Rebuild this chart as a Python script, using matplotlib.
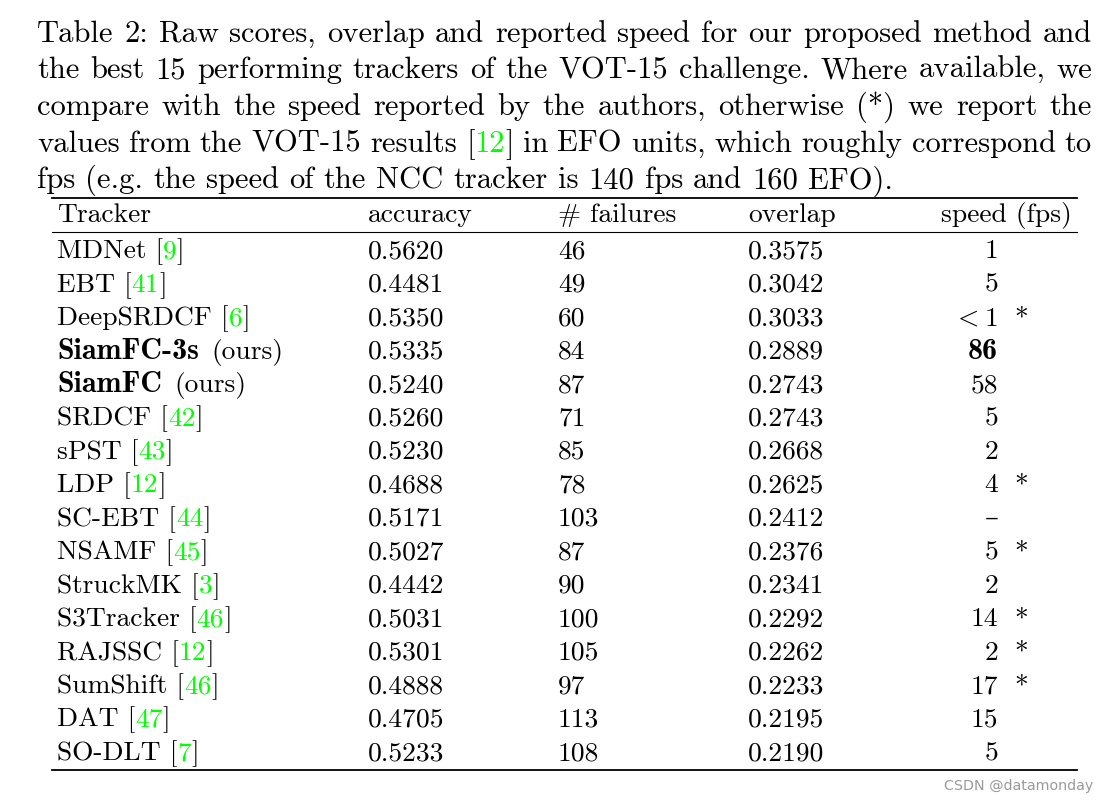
import matplotlib
matplotlib.use("Agg")
import matplotlib.pyplot as plt

plt.rcParams['mathtext.fontset'] = 'cm'

W, H = 1109, 803

# caption (already broken into lines like the paper)
caption = [
    "Table 2: Raw scores, overlap and reported speed for our proposed method and",
    "the best 15 performing trackers of the VOT-15 challenge. Where available, we",
    "compare with the speed reported by the authors, otherwise (*) we report the",
    "values from the VOT-15 results [12] in EFO units, which roughly correspond to",
    "fps (e.g. the speed of the NCC tracker is 140 fps and 160 EFO).",
]

headers = ["Tracker", "accuracy", "# failures", "overlap", "speed (fps)"]
trackers = ["MDNet", "EBT", "DeepSRDCF", "SiamFC-3s", "SiamFC", "SRDCF", "sPST", "LDP",
            "SC-EBT", "NSAMF", "StruckMK", "S3Tracker", "RAJSSC", "SumShift", "DAT", "SO-DLT"]
refs = ["9", "41", "6", "", "", "42", "43", "12", "44", "45", "3", "46", "12", "46", "47", "7"]
ours = [False, False, False, True, True] + [False] * 11
accuracy = [0.5620, 0.4481, 0.5350, 0.5335, 0.5240, 0.5260, 0.5230, 0.4688,
            0.5171, 0.5027, 0.4442, 0.5031, 0.5301, 0.4888, 0.4705, 0.5233]
failures = [46, 49, 60, 84, 87, 71, 85, 78, 103, 87, 90, 100, 105, 97, 113, 108]
overlap = [0.3575, 0.3042, 0.3033, 0.2889, 0.2743, 0.2743, 0.2668, 0.2625,
           0.2412, 0.2376, 0.2341, 0.2292, 0.2262, 0.2233, 0.2195, 0.2190]
speed = ["1", "5", "<1", "86", "58", "5", "2", "4", "–", "5", "2", "14", "2", "17", "15", "5"]
efo = [False, False, True, False, False, False, False, True,
       False, True, False, True, True, True, False, False]
best_speed = 3

GREEN = "#00ff00"
RM = ["cmr10", "DejaVu Serif"]
BF = ["cmb10", "DejaVu Serif"]
cap_size = 22
tab_size = 19.8
bold_size = 21.6   # cmb10 is narrower than LaTeX's cmbx, so a bit larger

fig = plt.figure(figsize=(W / 100, H / 100), dpi=100)
ax = fig.add_axes([0, 0, 1, 1])
ax.set_xlim(0, W)
ax.set_ylim(H, 0)
ax.axis("off")
renderer = fig.canvas.get_renderer()


def tw(s, size, family=RM):
    t = ax.text(0, 0, s, fontsize=size, family=family)
    w = t.get_window_extent(renderer).width
    t.remove()
    return w


def put(x, y, s, size, color="black", family=RM, ha="left", **kw):
    ax.text(x, y, s, fontsize=size, family=family, color=color, ha=ha, va="baseline", **kw)


def cite(x, y, before, num, size):
    # "name [n]" with the number in green
    put(x, y, before + "[", size)
    put(x + tw(before + "[" + num, size), y, num, size, GREEN, ha="right")
    put(x + tw(before + "[" + num + "]", size), y, "]", size, ha="right")


# ---- caption, justified ----
cap_left, cap_right = 37, 1092
cap_y0, cap_dy = 41.7, 36.65
for i, line in enumerate(caption):
    y = cap_y0 + i * cap_dy
    words = line.split(" ")
    widths = [tw(w_, cap_size) for w_ in words]
    if i == len(caption) - 1:
        gap = tw("a a", cap_size) - tw("aa", cap_size)
    else:
        gap = (cap_right - cap_left - sum(widths)) / (len(words) - 1)
    x = cap_left
    for w_, wd in zip(words, widths):
        if w_.startswith("[") and w_.endswith("]"):
            cite(x, y, "", w_[1:-1], cap_size)
        else:
            put(x, y, w_, cap_size)
        x += wd + gap

# ---- table ----
col_x = [57, 368, 558, 748]
speed_right = 998
star_x = 1014
rule_l, rule_r = 52, 1077
ax.plot([rule_l, rule_r], [199, 199], color="black", lw=1.3)
ax.plot([rule_l, rule_r], [233.3, 233.3], color="black", lw=0.8)
ax.plot([rule_l, rule_r], [770.5, 770.5], color="black", lw=1.3)

head_y = 221.7
for j in range(4):
    put(col_x[j], head_y, headers[j], tab_size)
put(1072, head_y, headers[4], tab_size, ha="right")

row_y0, row_dy = 258.3, 33.45
for i in range(len(trackers)):
    y = row_y0 + i * row_dy
    if ours[i]:
        put(col_x[0], y, trackers[i], bold_size, family=BF)
        put(col_x[0] + tw(trackers[i], bold_size, BF) + 12, y, "(ours)", tab_size)
    else:
        cite(col_x[0], y, trackers[i] + " ", refs[i], tab_size)
    put(col_x[1], y, "%.4f" % accuracy[i], tab_size)
    put(col_x[2], y, str(failures[i]), tab_size)
    put(col_x[3], y, "%.4f" % overlap[i], tab_size)
    s = speed[i]
    if s.startswith("<"):
        put(speed_right, y, r"$<1$", tab_size, ha="right")
    elif s == "–":
        put(speed_right + 1, y, s, tab_size, family="DejaVu Serif", ha="right",
            fontweight="light")
    elif i == best_speed:
        put(speed_right, y, s, bold_size, family=BF, ha="right")
    else:
        put(speed_right, y, s, tab_size, ha="right")
    if efo[i]:
        put(star_x, y, "*", tab_size)

ax.text(1093, 790, "CSDN @datamonday", fontsize=10.3, color="#9a9a9a",
        family="DejaVu Sans", ha="right", va="baseline")

fig.savefig("out.png", dpi=100)
